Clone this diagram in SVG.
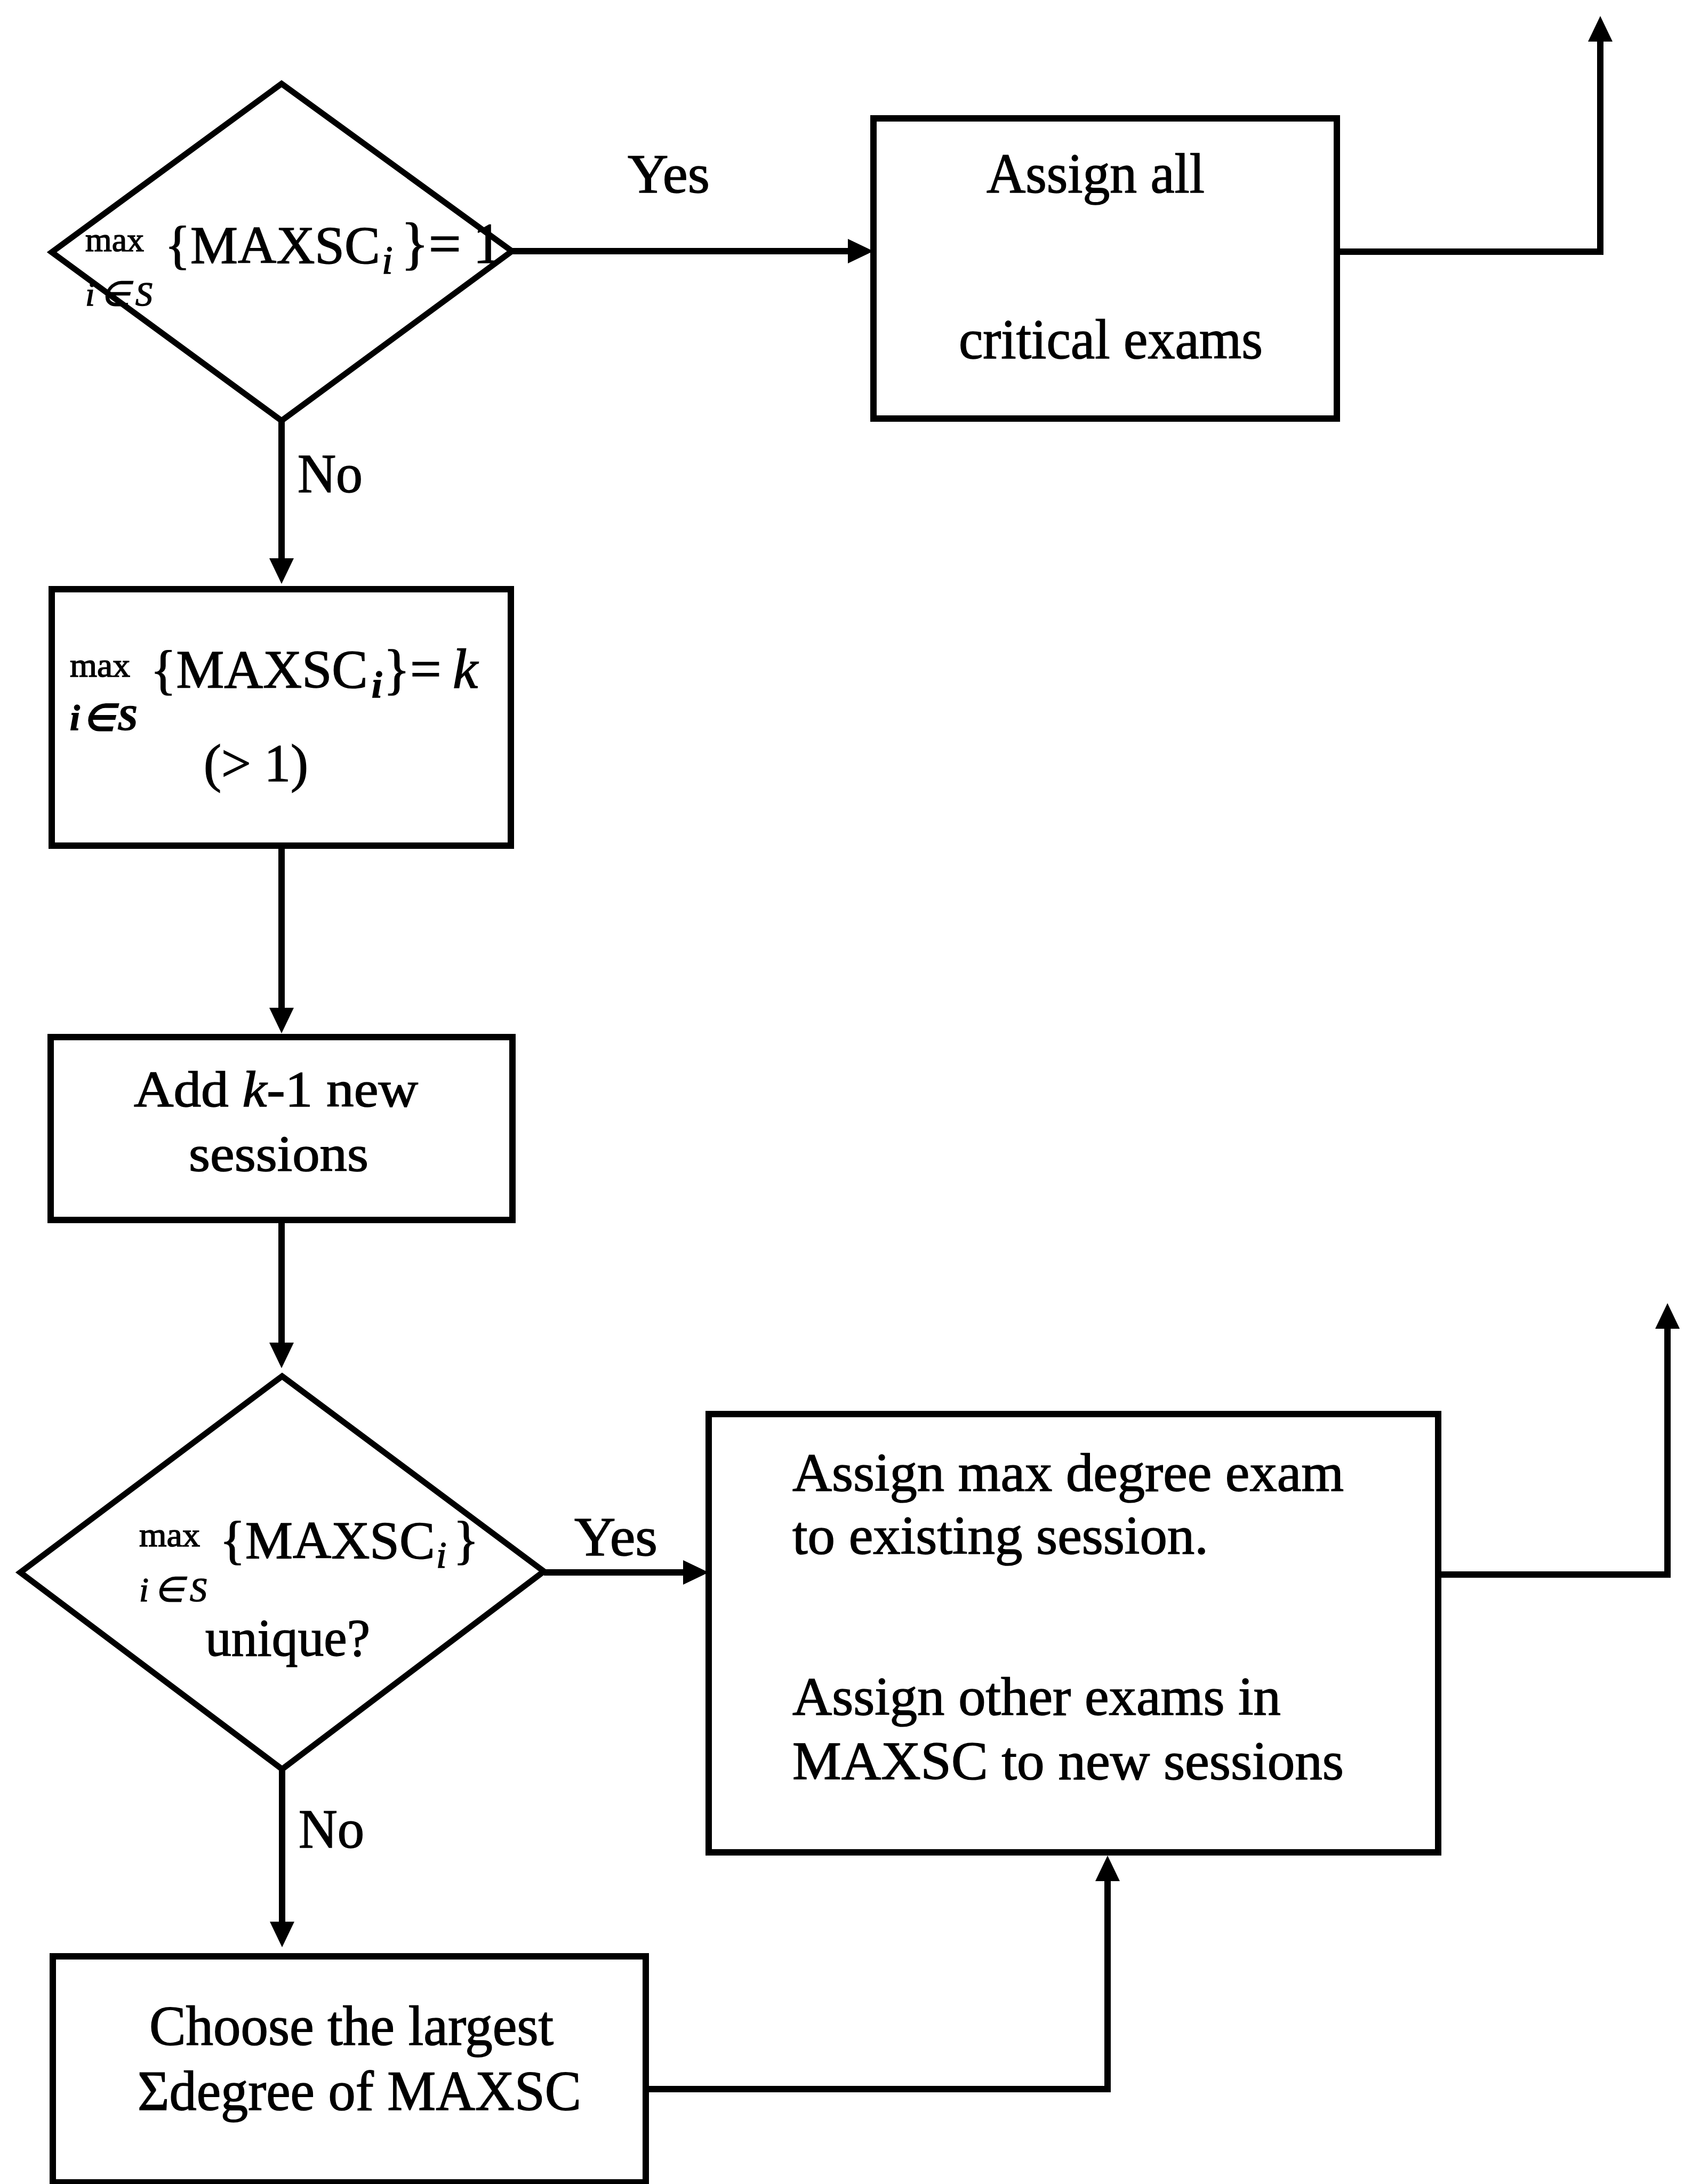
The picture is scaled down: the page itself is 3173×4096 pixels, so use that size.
<svg xmlns="http://www.w3.org/2000/svg" width="3173" height="4096" viewBox="0 0 3173 4096">
<style>
.shape{fill:#fff;stroke:#000;stroke-width:12;stroke-linejoin:miter}
.dia{fill:#fff;stroke:#000;stroke-width:11;stroke-linejoin:miter}
.conn{fill:none;stroke:#000;stroke-width:12;stroke-linejoin:miter}
text{font-family:"Liberation Serif","Times New Roman",serif;fill:#000;stroke:#000;stroke-width:1.5}
.t{font-size:104px}
.sm{font-size:64px}
.it{font-style:italic}
.bi{font-style:italic;font-weight:bold}
</style>
<defs>
<marker id="ah" markerUnits="userSpaceOnUse" markerWidth="48" markerHeight="46" viewBox="0 -23 48 46" refX="0" refY="0" orient="auto">
<path d="M0,-23 L48,0 L0,23 z" fill="#000"/>
</marker>
</defs>
<rect width="3173" height="4096" fill="#fff"/>

<g id="connectors">
<path class="conn" d="M960,471 L1590,471" marker-end="url(#ah)"/>
<path class="conn" d="M2507,472 L3001,472 L3001,78" marker-end="url(#ah)"/>
<path class="conn" d="M528,789 L528,1047" marker-end="url(#ah)"/>
<path class="conn" d="M528,1586 L528,1890" marker-end="url(#ah)"/>
<path class="conn" d="M528,2288 L528,2518" marker-end="url(#ah)"/>
<path class="conn" d="M1020,2949 L1281,2949" marker-end="url(#ah)"/>
<path class="conn" d="M529,3318 L529,3604" marker-end="url(#ah)"/>
<path class="conn" d="M2697,2953 L3127,2953 L3127,2492" marker-end="url(#ah)"/>
<path class="conn" d="M1211,3918 L2077,3918 L2077,3528" marker-end="url(#ah)"/>
</g>

<g id="labels">
<text class="t" x="1177" y="361" font-size="106" textLength="154" lengthAdjust="spacingAndGlyphs">Yes</text>
<text class="t" x="558" y="923" textLength="122" lengthAdjust="spacingAndGlyphs">No</text>
<text class="t" x="1077" y="2917" font-size="100" textLength="156" lengthAdjust="spacingAndGlyphs">Yes</text>
<text class="t" x="560" y="3465" textLength="123" lengthAdjust="spacingAndGlyphs">No</text>
</g>

<g id="decision1">
<polygon class="dia" points="528,157 960,471 528,789 97,473"/>
<text class="sm" x="160" y="471" textLength="110" lengthAdjust="spacingAndGlyphs">max</text>
<text x="309" y="493" font-size="100">{MAXSC<tspan class="it" x="716" y="513" font-size="74">i</tspan><tspan x="752" y="493" font-size="108">}=</tspan><tspan x="887" y="493" font-size="108">1</tspan></text>
<text class="sm it" x="160" y="573" textLength="126">i∈S</text>
</g>

<g id="assign-all">
<rect class="shape" x="1638" y="222" width="869" height="563"/>
<text x="1850" y="361" font-size="106" textLength="409" lengthAdjust="spacingAndGlyphs">Assign all</text>
<text x="1798" y="672" font-size="106" textLength="570" lengthAdjust="spacingAndGlyphs">critical exams</text>
</g>

<g id="maxk">
<rect class="shape" x="97" y="1105" width="861" height="481"/>
<text class="sm" x="131" y="1269" textLength="113" lengthAdjust="spacingAndGlyphs">max</text>
<text x="282" y="1290" font-size="101">{MAXSC<tspan class="bi" x="697" y="1308" font-size="70">i</tspan><tspan x="719" y="1290" font-size="104">}=</tspan><tspan class="it" x="849" y="1290" font-size="106">k</tspan></text>
<text class="bi" x="131" y="1369" font-size="68" textLength="127">i ∈ S</text>
<text x="382" y="1465" font-size="100" textLength="196" lengthAdjust="spacingAndGlyphs">(&gt; 1)</text>
</g>

<g id="add-sessions">
<rect class="shape" x="95" y="1945" width="866" height="343"/>
<text x="251" y="2075" font-size="96" textLength="533" lengthAdjust="spacingAndGlyphs">Add <tspan class="it">k</tspan>-1 new</text>
<text x="354" y="2196" font-size="96" textLength="337" lengthAdjust="spacingAndGlyphs">sessions</text>
</g>

<g id="decision2">
<polygon class="dia" points="529,2581 1020,2947 529,3318 38,2949"/>
<text class="sm" x="261" y="2900" textLength="114" lengthAdjust="spacingAndGlyphs">max</text>
<text x="412" y="2922" font-size="100">{MAXSC<tspan class="it" x="818" y="2940" font-size="70">i</tspan><tspan x="850" y="2922">}</tspan></text>
<text class="sm it" x="261" y="3003" textLength="127">i ∈ S</text>
<text x="385" y="3105" font-size="100" textLength="309" lengthAdjust="spacingAndGlyphs">unique?</text>
</g>

<g id="assign-max">
<rect class="shape" x="1329" y="2652" width="1368" height="822"/>
<text x="1486" y="2796" font-size="102" textLength="1034" lengthAdjust="spacingAndGlyphs">Assign max degree exam</text>
<text x="1486" y="2914" font-size="102" textLength="780" lengthAdjust="spacingAndGlyphs">to existing session.</text>
<text x="1486" y="3216" font-size="102" textLength="916" lengthAdjust="spacingAndGlyphs">Assign other exams in</text>
<text x="1486" y="3337" font-size="102" textLength="1034" lengthAdjust="spacingAndGlyphs">MAXSC to new sessions</text>
</g>

<g id="choose-largest">
<rect class="shape" x="99" y="3669" width="1112" height="424"/>
<text x="280" y="3835" font-size="106" textLength="758" lengthAdjust="spacingAndGlyphs">Choose the largest</text>
<text x="258" y="3957" font-size="106" textLength="832" lengthAdjust="spacingAndGlyphs">Σdegree of MAXSC</text>
</g>
</svg>
